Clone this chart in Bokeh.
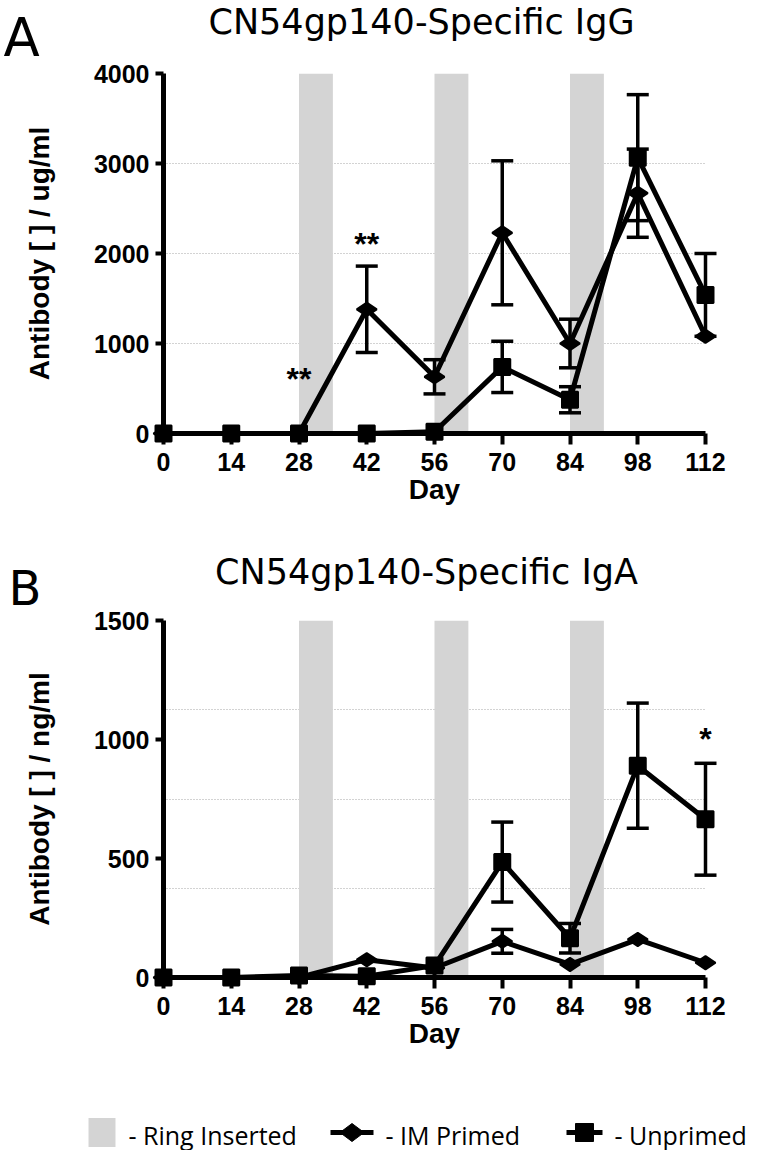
import math
from bokeh.plotting import figure
from bokeh.layouts import column
from bokeh.models import Range1d, FixedTicker
from bokeh.core.properties import value
from bokeh.embed import file_html
from bokeh.resources import INLINE

# ---------------- data ----------------
days = [0, 14, 28, 42, 56, 70, 84, 98, 112]
ring_start = [28, 56, 84]
ring_end = [35, 63, 91]

igg_im = [0, 0, 0, 1380, 630, 2230, 1000, 2670, 1080]
igg_im_err = [0, 0, 0, 480, 190, 800, 270, 490, 0]
igg_un = [0, 0, 0, 0, 20, 740, 375, 3065, 1540]
igg_un_err = [0, 0, 0, 0, 0, 285, 145, 700, 460]

iga_im = [0, 0, 0, 75, 40, 152, 55, 160, 62]
iga_im_err = [0, 0, 0, 0, 0, 50, 0, 0, 0]
iga_un = [0, 0, 8, 5, 50, 485, 165, 890, 665]
iga_un_err = [0, 0, 0, 0, 0, 168, 62, 263, 235]

igg_yticks = [0, 1000, 2000, 3000, 4000]
igg_ygrid = [1000, 2000, 3000, 4000]
iga_yticks = [0, 500, 1000, 1500]
iga_ygrid = [375, 750, 1125, 1500]

igg_sig_x = [28, 42]
igg_sig_y = [607, 2107]
igg_sig_text = ["**", "**"]
iga_sig_x = [112]
iga_sig_y = [1003]
iga_sig_text = ["*"]

legend_labels = ["- Ring Inserted", "- IM Primed", "- Unprimed"]

TICK_FONT = "Liberation Sans"
TITLE_FONT = "DejaVu Sans"
LEGEND_FONT = "Open Sans"
BAND_COLOR = "#d4d4d4"
W = 763
B_LEFT, B_RIGHT = 163, 58
FRAME_W = W - B_LEFT - B_RIGHT
XMAX = 112


def make_panel(letter, title, ylabel, im, im_err, un, un_err, ymax, yticks, ygrid,
               sig_x, sig_y, sig_text, btop, frame_h, bbottom,
               letter_px, letter_dy, letter_size, title_px, title_dy):
    p = figure(width=W, height=btop + frame_h + bbottom,
               x_range=Range1d(0, XMAX), y_range=Range1d(0, ymax),
               output_backend="svg", toolbar_location=None,
               min_border_left=B_LEFT, min_border_right=B_RIGHT,
               min_border_top=btop, min_border_bottom=bbottom)
    p.outline_line_color = None
    p.xgrid.visible = False
    p.ygrid.ticker = FixedTicker(ticks=ygrid)
    p.ygrid.grid_line_color = "#a6a6a6"
    p.ygrid.grid_line_dash = "1 2"
    p.ygrid.grid_line_width = 1

    p.quad(left=ring_start, right=ring_end, bottom=0, top=ymax,
           fill_color=BAND_COLOR, line_color=None)

    for ax in (p.xaxis[0], p.yaxis[0]):
        ax.axis_line_width = 5
        ax.axis_line_color = "black"
        ax.major_tick_line_width = 4
        ax.major_tick_line_color = "black"
        ax.major_tick_in = 0
        ax.minor_tick_line_color = None
        ax.major_label_text_font = TICK_FONT
        ax.major_label_text_font_style = "bold"
        ax.major_label_text_font_size = "25px"
        ax.major_label_text_color = "black"
        ax.axis_label_text_font = TICK_FONT
        ax.axis_label_text_font_style = "bold"
        ax.axis_label_text_font_size = "28px"
        ax.axis_label_text_color = "black"
    p.xaxis.ticker = FixedTicker(ticks=days)
    p.yaxis.ticker = FixedTicker(ticks=yticks)
    p.xaxis.major_tick_out = 11
    p.yaxis.major_tick_out = 8
    p.xaxis.major_label_standoff = 8
    p.yaxis.major_label_standoff = 6
    p.xaxis.axis_label = "Day"
    p.xaxis.axis_label_standoff = 0
    p.yaxis.axis_label = ylabel
    p.yaxis.axis_label_standoff = 36

    p.line(days, im, line_width=5, color="black", level="overlay")
    p.line(days, un, line_width=5, color="black", level="overlay")

    for vals, errs in ((im, im_err), (un, un_err)):
        ex = [d for d, e in zip(days, errs) if e > 0]
        lo = [v - e for v, e in zip(vals, errs) if e > 0]
        hi = [v + e for v, e in zip(vals, errs) if e > 0]
        p.segment(x0=ex, y0=lo, x1=ex, y1=hi, line_width=3.5, color="black", level="overlay")
        p.scatter(ex, hi, marker="dash", size=22, line_width=3.5, line_color="black", level="overlay")
        p.scatter(ex, lo, marker="dash", size=22, line_width=3.5, line_color="black", level="overlay")

    p.scatter(days, im, marker="diamond", angle=math.pi / 2, size=20,
              fill_color="black", line_color="black", line_width=2, level="overlay")
    p.scatter(days, un, marker="square", size=16,
              fill_color="black", line_color="black", line_width=2, level="overlay")

    p.text(x=sig_x, y=sig_y, text=sig_text, text_align="center", text_baseline="middle",
           text_font=value(TICK_FONT), text_font_style="bold", text_font_size="32px",
           text_color="black", level="overlay")

    # pixel offsets (from frame left / frame top) -> data coordinates, for border texts
    def to_x(px):
        return px * XMAX / FRAME_W

    def to_y(dy):
        return ymax + dy * ymax / frame_h

    p.text(x=[to_x(title_px)], y=[to_y(title_dy)], text=[title], text_align="center",
           text_baseline="middle", text_font=value(TITLE_FONT), text_font_size="35px",
           text_color="black", level="overlay")
    p.text(x=[to_x(letter_px)], y=[to_y(letter_dy)], text=[letter], text_align="left",
           text_baseline="middle", text_font=value(TITLE_FONT), text_font_size=letter_size,
           text_color="black", level="overlay")
    return p, to_x, to_y


pa, _, _ = make_panel("A", "CN54gp140-Specific IgG", "Antibody [ ] / ug/ml",
                      igg_im, igg_im_err, igg_un, igg_un_err, 4000, igg_yticks, igg_ygrid,
                      igg_sig_x, igg_sig_y, igg_sig_text, 73, 360, 112,
                      -160, 36, "53px", 258, 52)

B_TOP, B_FRAME = 75, 357
pb, bx, by = make_panel(
    "B", "CN54gp140-Specific IgA", "Antibody [ ] / ng/ml",
    iga_im, iga_im_err, iga_un, iga_un_err, 1500, iga_yticks, iga_ygrid,
    iga_sig_x, iga_sig_y, iga_sig_text, B_TOP, B_FRAME, 173,
    -155, 33, "48px", 263, 49)

# ---------------- legend row in the bottom border of panel B ----------------
# legend geometry in pixels: x from the frame's left edge, dy below the frame bottom
ROW_DY = 155


def lx(px):
    return bx(px)


def ly(dy_below):
    return by(-(B_FRAME + dy_below))


def box(cx, cy, hw, hh):
    return [lx(cx - hw), lx(cx + hw), lx(cx + hw), lx(cx - hw)], \
           [ly(cy - hh), ly(cy - hh), ly(cy + hh), ly(cy + hh)]


def rhomb(cx, cy, hw, hh):
    return [lx(cx - hw), lx(cx), lx(cx + hw), lx(cx)], \
           [ly(cy), ly(cy - hh), ly(cy), ly(cy + hh)]


# ring swatch
sx, sy = box(-61.5, ROW_DY, 13.5, 14.5)
pb.patch(sx, sy, fill_color=BAND_COLOR, line_color=None, level="overlay")
# IM primed icon: line + diamond
pb.line([lx(167), lx(210)], [ly(ROW_DY), ly(ROW_DY)], line_width=5, color="black", level="overlay")
dx_, dy_ = rhomb(188.5, ROW_DY, 12, 9)
pb.patch(dx_, dy_, fill_color="black", line_color="black", line_width=1, level="overlay")
# Unprimed icon: line + square
pb.line([lx(403), lx(439)], [ly(ROW_DY), ly(ROW_DY)], line_width=5, color="black", level="overlay")
qx, qy = box(421, ROW_DY, 9, 9)
pb.patch(qx, qy, fill_color="black", line_color="black", line_width=1, level="overlay")

pb.text(x=[lx(-35), lx(222), lx(451)], y=[ly(ROW_DY + 2)] * 3, text=legend_labels,
        text_align="left", text_baseline="middle", text_font=value(LEGEND_FONT),
        text_font_size="25px", text_color="black", level="overlay")

layout = column(pa, pb, spacing=0)
open("out.html", "w").write(file_html(layout, INLINE))
